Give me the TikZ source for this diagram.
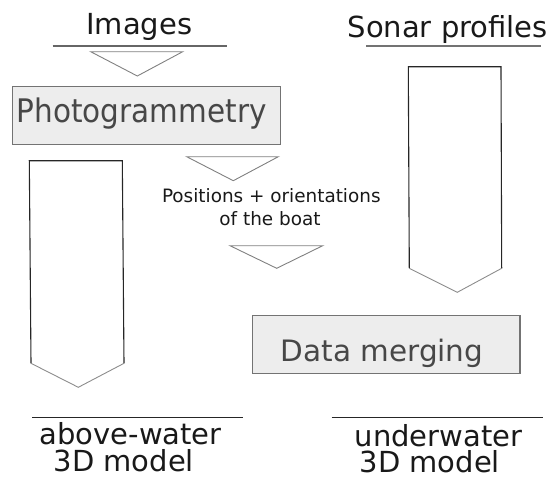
\documentclass[tikz,border=0pt]{standalone}
\usepackage{fontspec}
\setmainfont{DejaVu Sans}
\newcommand{\nodepth}[1]{\raisebox{0pt}[\height][0pt]{#1}}
\begin{document}
\begin{tikzpicture}[x=1pt,y=-1pt,
  big/.style={inner sep=0pt,font=\fontsize{29}{34}\selectfont,text=black!90},
  boxtext/.style={inner sep=0pt,font=\fontsize{29.5}{34}\selectfont,text=black!72},
  small/.style={inner sep=0pt,font=\fontsize{18.4}{22}\selectfont,text=black!90},
  procbox/.style={draw=black!55,fill=black!7,line width=1.1pt},
  rule/.style={draw=black!85,line width=1.3pt},
  tri/.style={draw=black!50,line width=0.9pt},
  side/.style={draw=black!85,line width=1.1pt},
  chev/.style={draw=black!45,line width=0.9pt}]
\useasboundingbox (0,0) rectangle (552,479);

% top labels
\node[big,anchor=base] (images) at (139.2,34.3) {Images};
\node[big,anchor=base] (sonar) at (447.7,37.3) {Sonar profiles};
\draw[rule,draw=black!60] (52.7,46) -- (226.7,46);
\draw[rule,draw=black!55] (366,46) -- (540.7,46);

% triangle under Images
\draw[tri] (90.7,51.7) -- (182.7,51.7) -- (137.3,76) -- cycle;

% Photogrammetry box
\draw[procbox] (12.7,86.7) rectangle (280.7,144.3);
\node[boxtext,anchor=base] (photo) at (141.7,122.7) {\scalebox{1}[1.1]{Photogrammetry}};

% triangle 2
\draw[tri] (186.7,156.7) -- (278.3,156.7) -- (233.3,180.7) -- cycle;
\node[small,anchor=base] (pos1) at (271.3,202.7) {Positions + orientations};
\node[small,anchor=base] (pos2) at (270,225.3) {of the boat};
% triangle 3
\draw[tri] (230,245.7) -- (322.7,245.7) -- (276.7,268.3) -- cycle;

% left pentagon arrow
\draw[side] (31,363.3) -- (29.3,160.7) -- (122.3,160.7) -- (124,363.3);
\draw[chev] (31,363.3) -- (78.3,387.3) -- (124,363.3);

% right pentagon arrow
\draw[side] (409.3,268.3) -- (408.3,66.7) -- (501,66.7) -- (501.7,268.3);
\draw[chev] (409.3,268.3) -- (457.3,292.3) -- (501.7,268.3);

% Data merging box
\draw[procbox] (252.3,315.3) rectangle (520,373.3);
\node[boxtext,anchor=base] (merge) at (382,361) {Data merging};

% bottom rules and labels
\draw[rule] (32.3,417.3) -- (243.3,417.3);
\draw[rule] (331.7,417.3) -- (542.7,417.3);
\node[big,anchor=base west] (above1) at (39.5,444.5) {\nodepth{above-water}};
\node[big,anchor=base west] (above2) at (53.5,471) {\nodepth{3D model}};
\node[big,anchor=base west] (under1) at (354.5,446) {\nodepth{underwater}};
\node[big,anchor=base west] (under2) at (359.5,472.5) {\nodepth{3D model}};
\end{tikzpicture}
\end{document}
